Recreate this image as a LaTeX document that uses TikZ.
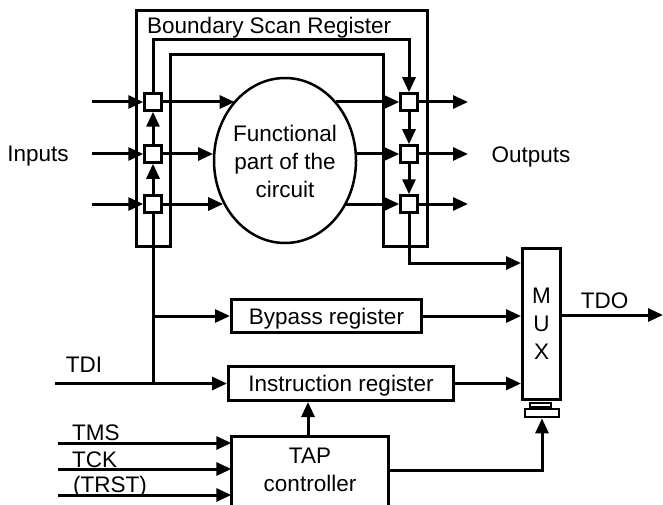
\documentclass[tikz,border=0pt]{standalone}
\usepackage{fontspec}
\setmainfont{Liberation Sans}
\usetikzlibrary{arrows.meta,shapes.geometric,calc}
\begin{document}
\begin{tikzpicture}[x=1pt,y=-1pt,
  every node/.style={font=\fontsize{22.5}{28}\selectfont},
  ln/.style={line width=3pt},
  arr/.style={ln,-{Triangle[length=15pt,width=13pt]}},
  cell/.style={draw,ln,minimum size=16.5pt,inner sep=0pt,fill=white},
  regbox/.style={draw,ln,inner sep=0pt,text depth=0pt},
  lbl/.style={inner sep=0pt}]
\useasboundingbox (0,0) rectangle (663,505);
\clip (0,0) rectangle (663,505);

% boundary scan register frame
\draw[ln] (136,11) -- (427,11) -- (427,246) -- (383,246) -- (383,55)
  -- (170,55) -- (170,246) -- (136,246) -- cycle;
\node[lbl,anchor=base west] (bsr) at (147,34) {Boundary Scan Register};

% cells
\node[cell] (lc1) at (153,102) {};
\node[cell] (lc2) at (153,154) {};
\node[cell] (lc3) at (153,204) {};
\node[cell] (rc1) at (409,102) {};
\node[cell] (rc2) at (409,154) {};
\node[cell] (rc3) at (409,204) {};

% functional part
\node[draw,line width=2.5pt,ellipse,minimum width=142,minimum height=165,inner sep=0pt] (fp) at (285,160.5) {};
\node[lbl,align=center] (fptxt) at (285,161) {Functional\\part of the\\circuit};

% inputs
\coordinate (i1) at (92,102);
\coordinate (i2) at (92,154);
\coordinate (i3) at (92,204);
\draw[arr] (i1) -- (lc1);
\draw[arr] (i2) -- (lc2);
\draw[arr] (i3) -- (lc3);
\node[lbl,anchor=base] (inl) at (38,162) {Inputs};

% cells to functional part
\draw[arr] (lc1) -- (lc1 -| fp.130.5);
\draw[arr] (lc2) -- (lc2 -| fp.174.8);
\draw[arr] (lc3) -- (lc3 -| fp.215.8);
\draw[arr] (rc1 -| fp.49.5) -- (rc1);
\draw[arr] (rc2 -| fp.5.2) -- (rc2);
\draw[arr] (rc3 -| fp.324.2) -- (rc3);

% scan chain
\draw[arr] (lc2) -- (lc1);
\draw[arr] (lc3) -- (lc2);
\coordinate (sc) at (280,40);
\draw[arr] (lc1) |- (sc) -| (rc1);
\draw[arr] (rc1) -- (rc2);
\draw[arr] (rc2) -- (rc3);

% outputs
\coordinate (o1) at (468,102);
\coordinate (o2) at (468,154);
\coordinate (o3) at (468,204);
\draw[arr] (rc1) -- (o1);
\draw[arr] (rc2) -- (o2);
\draw[arr] (rc3) -- (o3);
\node[lbl,anchor=base] (outl) at (531,162.5) {Outputs};

% registers
\node[regbox,minimum width=190,minimum height=33] (bp) at (326.5,316) {Bypass register};
\node[regbox,minimum width=225,minimum height=34] (ir) at (341,383.5) {Instruction register};

% MUX
\node[draw,ln,inner sep=0pt,align=center,minimum width=38,minimum height=151] (mux) at (541.5,324) {M\\U\\X};
\node[draw,line width=2.2pt,inner sep=0pt,minimum width=21,minimum height=3.5] (sel1) at (540.5,405) {};
\node[draw,line width=2.2pt,inner sep=0pt,minimum width=33.5,minimum height=8] (sel2) at (542,413.3) {};

% TDI
\coordinate (tdiL) at (55,383.5);
\draw[arr] (tdiL) -- (ir);
\node[lbl] (tdil) at (84,364.5) {TDI};
\draw[ln] (lc3) -- (lc3 |- tdiL);
\draw[arr] (lc3 |- bp) -- (bp);

% to MUX
\coordinate (m1) at (521,263);
\draw[arr] (rc3) |- (mux.west |- m1);
\draw[arr] (bp.east) -- (bp.east -| mux.west);
\draw[arr] (ir.east) -- (ir.east -| mux.west);

% TDO
\coordinate (tdo) at (663,315);
\draw[arr] (tdo -| mux.east) -- (tdo);
\node[lbl] (tdol) at (604.5,301) {TDO};

% TAP controller
\node[lbl,align=center,minimum width=157,minimum height=66] (tap) at (310,470) {TAP\\controller};
\draw[ln] ($(tap.south west)+(0,30)$) -- (tap.north west) -- (tap.north east) -- ($(tap.south east)+(0,30)$);
\coordinate (tapup) at (308,436);
\draw[arr] (tapup) -- (ir.south -| tapup);
\draw[arr] (tap.east) -| (sel2);

\coordinate (tms) at (58,443);
\coordinate (tck) at (58,469);
\coordinate (trst) at (58,495);
\draw[arr] (tms) -- (tms -| tap.west);
\draw[arr] (tck) -- (tck -| tap.west);
\draw[arr] (trst) -- (trst -| tap.west);
\node[lbl,anchor=west] (tmsl) at (72,432.5) {TMS};
\node[lbl,anchor=west] (tckl) at (72,459.5) {TCK};
\node[lbl,anchor=west] (trstl) at (73,487) {(TRST)};
\end{tikzpicture}
\end{document}
